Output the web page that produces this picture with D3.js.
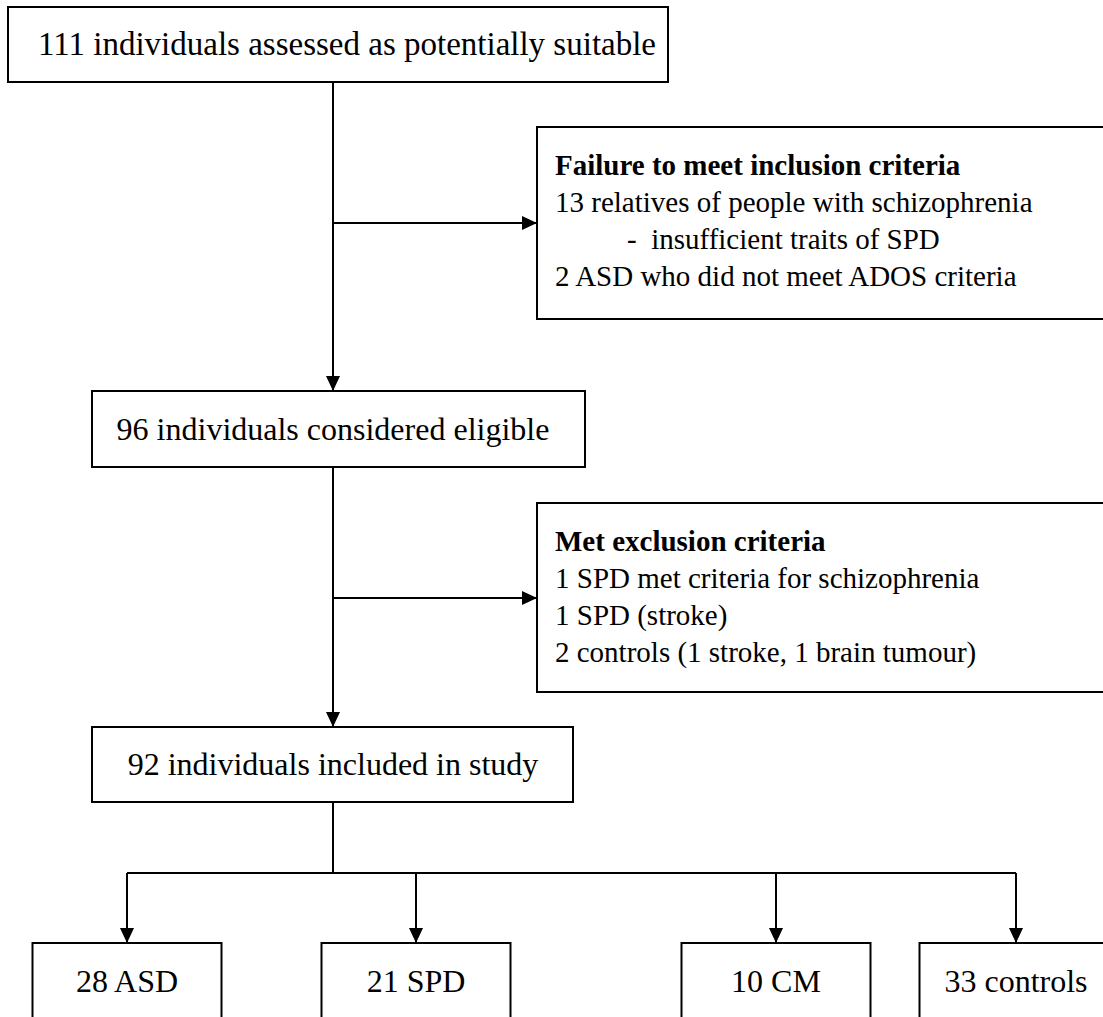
<!DOCTYPE html>
<html>
<head>
<meta charset="utf-8">
<script src="https://cdn.jsdelivr.net/npm/d3@7"></script>
<style>
  html, body { margin: 0; padding: 0; background: #fff; }
  svg { display: block; }
  text { font-family: "Liberation Serif", "Times New Roman", serif; fill: #000; }
</style>
</head>
<body>
<svg id="chart" width="1103" height="1017"></svg>
<script>
// ---- data ----
const stepCounts = [111, 96, 92];
const stepLabels = ["individuals assessed as potentially suitable", "individuals considered eligible", "individuals included in study"];
const exitTitles = ["Failure to meet inclusion criteria", "Met exclusion criteria"];
const inclusionLines = ["13 relatives of people with schizophrenia", "-  insufficient traits of SPD", "2 ASD who did not meet ADOS criteria"];
const exclusionLines = ["1 SPD met criteria for schizophrenia", "1 SPD (stroke)", "2 controls (1 stroke, 1 brain tumour)"];
const groupNames = ["ASD", "SPD", "CM", "controls"];
const groupCounts = [28, 21, 10, 33];

// ---- layout (pixel space) ----
const svg = d3.select("#chart");
const stepFS = [33, 32, 32];
const exitFS = 29;
const groupFS = 32;
const stemX = 333;
const stepBoxes = [
  {x0: 8, x1: 668, y0: 7, y1: 82, tx: 347},
  {x0: 92, x1: 585, y0: 391, y1: 467, tx: 333},
  {x0: 92, x1: 573, y0: 727, y1: 802, tx: 333}
];
const exitBoxes = [
  {x0: 537, x1: 1112, y0: 127, y1: 319, arrowY: 223, indent: [0, 72, 0]},
  {x0: 537, x1: 1112, y0: 503, y1: 692, arrowY: 598, indent: [0, 0, 0]}
];
const exitLines = [inclusionLines, exclusionLines];
const branchY = 873;
const groupTop = 943, groupBottom = 1040;
const groupX = d3.scaleOrdinal().domain(groupNames).range([127, 416, 776, 1016]);
const groupBoxW = 189;

// arrow marker
svg.append("defs").append("marker")
  .attr("id", "arrow")
  .attr("viewBox", "0 0 15 14")
  .attr("refX", 15).attr("refY", 7)
  .attr("markerWidth", 15).attr("markerHeight", 14)
  .attr("markerUnits", "userSpaceOnUse")
  .attr("orient", "auto")
  .append("path").attr("d", "M0,0L15,7L0,14Z").attr("fill", "#000");

const lineG = svg.append("g").attr("stroke", "#000").attr("stroke-width", 2).attr("fill", "none");

for (let i = 0; i < stepBoxes.length - 1; i++) {
  lineG.append("line")
    .attr("x1", stemX).attr("y1", stepBoxes[i].y1)
    .attr("x2", stemX).attr("y2", stepBoxes[i + 1].y0)
    .attr("marker-end", "url(#arrow)");
}
exitBoxes.forEach(b => {
  lineG.append("line")
    .attr("x1", stemX).attr("y1", b.arrowY)
    .attr("x2", b.x0).attr("y2", b.arrowY)
    .attr("marker-end", "url(#arrow)");
});
const last = stepBoxes[stepBoxes.length - 1];
lineG.append("line").attr("x1", stemX).attr("y1", last.y1).attr("x2", stemX).attr("y2", branchY);
lineG.append("line")
  .attr("x1", groupX(groupNames[0])).attr("y1", branchY)
  .attr("x2", groupX(groupNames[groupNames.length - 1])).attr("y2", branchY);
groupNames.forEach(g => {
  lineG.append("line")
    .attr("x1", groupX(g)).attr("y1", branchY)
    .attr("x2", groupX(g)).attr("y2", groupTop)
    .attr("marker-end", "url(#arrow)");
});

// step boxes
const steps = svg.append("g").selectAll("g").data(stepBoxes).join("g");
steps.append("rect")
  .attr("x", d => d.x0).attr("y", d => d.y0)
  .attr("width", d => d.x1 - d.x0).attr("height", d => d.y1 - d.y0)
  .attr("fill", "#fff").attr("stroke", "#000").attr("stroke-width", 2);
steps.append("text")
  .attr("x", d => d.tx)
  .attr("y", d => (d.y0 + d.y1) / 2 + 10.5)
  .attr("text-anchor", "middle")
  .attr("font-size", (d, i) => stepFS[i])
  .text((d, i) => stepCounts[i] + " " + stepLabels[i]);

// exit boxes
const exits = svg.append("g").selectAll("g").data(exitBoxes).join("g");
exits.append("rect")
  .attr("x", d => d.x0).attr("y", d => d.y0)
  .attr("width", d => d.x1 - d.x0).attr("height", d => d.y1 - d.y0)
  .attr("fill", "#fff").attr("stroke", "#000").attr("stroke-width", 2);
exits.each(function(d, i) {
  const g = d3.select(this);
  const t = g.append("text").attr("font-size", exitFS).style("white-space", "pre");
  t.append("tspan").attr("x", d.x0 + 18).attr("y", d.y0 + 48)
    .attr("font-weight", "bold").text(exitTitles[i]);
  exitLines[i].forEach((ln, j) => {
    t.append("tspan").attr("x", d.x0 + 18 + d.indent[j]).attr("y", d.y0 + 48 + 37 * (j + 1))
      .text(ln);
  });
});

// group boxes
const groups = svg.append("g").selectAll("g").data(groupNames).join("g");
groups.append("rect")
  .attr("x", d => groupX(d) - groupBoxW / 2 + (d === "controls" ? -2 : 0))
  .attr("y", groupTop)
  .attr("width", groupBoxW)
  .attr("height", groupBottom - groupTop)
  .attr("fill", "#fff").attr("stroke", "#000").attr("stroke-width", 2);
groups.append("text")
  .attr("x", d => groupX(d))
  .attr("y", groupTop + 49)
  .attr("text-anchor", "middle")
  .attr("font-size", groupFS)
  .text((d, i) => groupCounts[i] + " " + d);
</script>
</body>
</html>
